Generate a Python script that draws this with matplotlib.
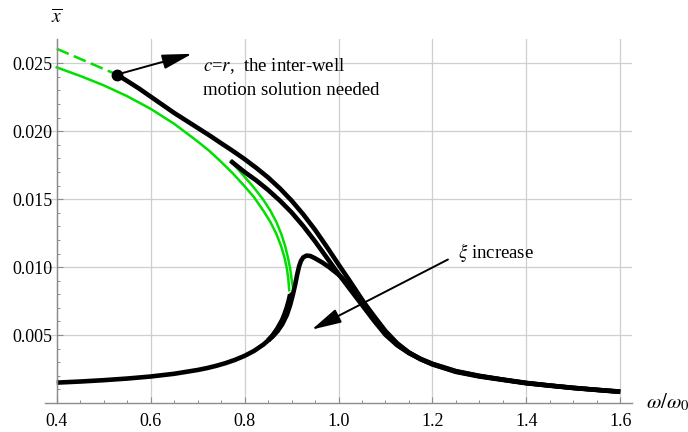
import matplotlib
matplotlib.use("Agg")
import matplotlib.pyplot as plt
from matplotlib.ticker import MultipleLocator, FormatStrFormatter

plt.rcParams["font.family"] = ["Liberation Serif", "DejaVu Serif"]
plt.rcParams["mathtext.fontset"] = "stix"

# ---- response curves: frequency ratio w/w0 and amplitude x_bar ----
# curve A (smallest damping): stable upper branch starting at c = r
upper_A_w = [0.528, 0.55, 0.575, 0.60, 0.625, 0.65, 0.675, 0.70, 0.725, 0.75,
             0.775, 0.80, 0.825, 0.85, 0.875, 0.90, 0.925, 0.95, 0.975, 1.00,
             1.025, 1.05, 1.075, 1.10, 1.125, 1.15, 1.175, 1.20, 1.25, 1.30,
             1.35, 1.40, 1.45, 1.50, 1.55, 1.60]
upper_A_x = [0.02417, 0.02370, 0.02315, 0.02255, 0.02195, 0.02135, 0.02080,
             0.02025, 0.01970, 0.01912, 0.01855, 0.01795, 0.01730, 0.01660,
             0.01580, 0.01490, 0.01388, 0.01275, 0.01150, 0.01020, 0.00893,
             0.00762, 0.00628, 0.00510, 0.00428, 0.00370, 0.00325, 0.00289,
             0.00235, 0.00200, 0.00172, 0.00148, 0.00128, 0.00112, 0.00097,
             0.00084]
# dashed continuation beyond c = r
dashed_A_w = [0.40, 0.528]
dashed_A_x = [0.02607, 0.02417]
# unstable middle branch of curve A
middle_A_w = [0.40, 0.45, 0.50, 0.55, 0.60, 0.65, 0.70, 0.725, 0.75, 0.775,
              0.80, 0.82, 0.84, 0.855, 0.868, 0.878, 0.885, 0.89, 0.893, 0.895]
middle_A_x = [0.02470, 0.02407, 0.02338, 0.02258, 0.02165, 0.02055, 0.01925,
              0.01855, 0.01775, 0.01690, 0.01595, 0.01515, 0.01415, 0.01332,
              0.01242, 0.01152, 0.01070, 0.00990, 0.00920, 0.00830]
# lower branch, common part of all three curves
lower_w = [0.40, 0.45, 0.50, 0.55, 0.60, 0.65, 0.70, 0.72, 0.74, 0.76, 0.78,
           0.80, 0.82, 0.84, 0.85]
lower_x = [0.00150, 0.00158, 0.00168, 0.00180, 0.00195, 0.00215, 0.00243,
           0.00257, 0.00274, 0.00294, 0.00318, 0.00347, 0.00383, 0.00430,
           0.00460]
# end of the lower branch of curve A
lower_A_w = [0.85, 0.86, 0.87, 0.88, 0.885, 0.89, 0.894, 0.897]
lower_A_x = [0.00460, 0.00500, 0.00550, 0.00612, 0.00655, 0.00705, 0.00755,
             0.00800]

# curve B (medium damping)
upper_B_w = [0.770, 0.78, 0.80, 0.825, 0.85, 0.875, 0.90, 0.925, 0.95, 0.975,
             1.00, 1.025, 1.05, 1.075, 1.10, 1.125, 1.15, 1.175, 1.20, 1.25,
             1.30, 1.40, 1.50, 1.60]
upper_B_x = [0.01783, 0.01755, 0.01700, 0.01638, 0.01568, 0.01490, 0.01403,
             0.01302, 0.01190, 0.01070, 0.00950, 0.00835, 0.00722, 0.00608,
             0.00502, 0.00425, 0.00367, 0.00322, 0.00286, 0.00232, 0.00198,
             0.00147, 0.00111, 0.00083]
middle_B_w = [0.771, 0.78, 0.79, 0.80, 0.82, 0.84, 0.855, 0.868, 0.878, 0.886,
              0.892, 0.897, 0.900, 0.903]
middle_B_x = [0.01780, 0.01745, 0.01705, 0.01665, 0.01585, 0.01495, 0.01415,
              0.01330, 0.01245, 0.01160, 0.01075, 0.00990, 0.00915, 0.00850]
lower_B_w = [0.85, 0.86, 0.87, 0.88, 0.89, 0.896, 0.901]
lower_B_x = [0.00460, 0.00495, 0.00540, 0.00598, 0.00680, 0.00745, 0.00810]

# curve C (largest damping): single-valued response
curve_C_w = [0.85, 0.86, 0.87, 0.88, 0.89, 0.897, 0.903, 0.908, 0.912, 0.916,
             0.920, 0.925, 0.932, 0.940, 0.950, 0.965, 0.98, 1.00, 1.02, 1.04,
             1.06, 1.08, 1.10, 1.125, 1.15, 1.175, 1.20, 1.25, 1.30, 1.40,
             1.50, 1.60]
curve_C_x = [0.00460, 0.00490, 0.00528, 0.00578, 0.00648, 0.00720, 0.00800,
             0.00875, 0.00945, 0.01005, 0.01045, 0.01072, 0.01085, 0.01082,
             0.01065, 0.01035, 0.01000, 0.00945, 0.00878, 0.00800, 0.00712,
             0.00620, 0.00530, 0.00440, 0.00372, 0.00322, 0.00284, 0.00229,
             0.00195, 0.00145, 0.00110, 0.00082]

# annotation anchors
cr_point = (0.528, 0.02417)
cr_arrow_tip = (0.688, 0.0257)
cr_text_pos = (0.712, 0.02555)
xi_arrow_start = (1.233, 0.01056)
xi_arrow_tip = (0.943, 0.0054)
xi_text_pos = (1.254, 0.01108)

x_ticks = [0.4, 0.6, 0.8, 1.0, 1.2, 1.4, 1.6]
y_ticks = [0.005, 0.010, 0.015, 0.020, 0.025]

BLACK = "black"
GREEN = "#00e000"
LW = 3.3

fig = plt.figure(figsize=(6.88, 4.32), dpi=100)
ax = fig.add_axes([45 / 688, 29 / 432, 587 / 688, 364 / 432])

ax.set_xlim(0.375, 1.625)
ax.set_ylim(0, 0.02679)

ax.grid(True, color="#cfcfcf", lw=0.9)
ax.set_axisbelow(True)

ax.plot(dashed_A_w, dashed_A_x, color=GREEN, lw=1.8, ls=(0, (5.2, 2.2)))
ax.plot(middle_A_w, middle_A_x, color=GREEN, lw=1.8)
ax.plot(middle_B_w, middle_B_x, color=GREEN, lw=1.8)
for w, x in [(upper_A_w, upper_A_x), (lower_w, lower_x),
             (lower_A_w, lower_A_x), (upper_B_w, upper_B_x),
             (lower_B_w, lower_B_x), (curve_C_w, curve_C_x)]:
    ax.plot(w, x, color=BLACK, lw=LW, solid_capstyle="butt",
            solid_joinstyle="round")
ax.plot(*cr_point, "o", color=BLACK, ms=7.5)

arrow_style = dict(arrowstyle="-|>,head_length=1.3,head_width=0.32",
                   color=BLACK, lw=1.4, mutation_scale=14, shrinkA=0, shrinkB=0)
ax.annotate("", xy=cr_arrow_tip, xytext=cr_point, arrowprops=arrow_style)
ax.annotate("", xy=xi_arrow_tip, xytext=xi_arrow_start, arrowprops=arrow_style)

ax.text(*cr_text_pos, "$c$=$r$,  the inter-well\nmotion solution needed",
        fontsize=13.5, va="top", ha="left", linespacing=1.45)
ax.text(*xi_text_pos, r"$\xi$ increase", fontsize=13.5, va="center", ha="left")

# axes drawn through (0.4, 0)
for side in ("top", "right"):
    ax.spines[side].set_visible(False)
ax.spines["left"].set_position(("data", 0.4))
for side in ("left", "bottom"):
    ax.spines[side].set_color("#8c8c8c")
    ax.spines[side].set_linewidth(1.0)

ax.set_xticks(x_ticks)
ax.set_yticks(y_ticks)
ax.xaxis.set_major_formatter(FormatStrFormatter("%.1f"))
ax.yaxis.set_major_formatter(FormatStrFormatter("%.3f"))
ax.xaxis.set_minor_locator(MultipleLocator(0.05))
ax.yaxis.set_minor_locator(MultipleLocator(0.001))
ax.tick_params(which="major", direction="in", length=4.5, width=0.8,
               color="#8c8c8c", labelsize=13)
ax.tick_params(which="minor", direction="in", length=2.5, width=0.7,
               color="#8c8c8c")
ax.tick_params(axis="x", which="major", pad=7)
ax.tick_params(axis="y", which="major", pad=3)

fig.text(57 / 688, 1 - 17 / 432, r"$\overline{x}$", fontsize=14,
         ha="center", va="center")
fig.text(646 / 688, 1 - 402 / 432, r"$\omega/\omega_0$", fontsize=15,
         ha="left", va="center")

fig.savefig("out.png", dpi=100)
